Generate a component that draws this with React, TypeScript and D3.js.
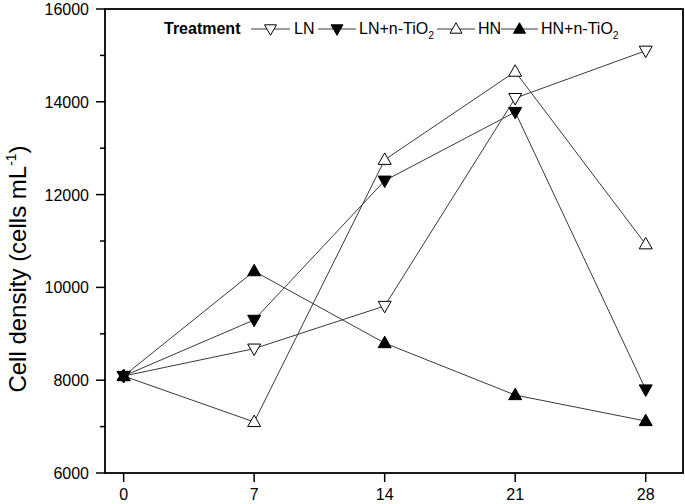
import React from "react";
import * as d3 from "d3";

const days = [0, 7, 14, 21, 28];
const LN = [8090, 8680, 9600, 14080, 15100];
const LN_TiO2 = [8090, 9300, 12300, 13780, 7800];
const HN = [8090, 7100, 12750, 14650, 10930];
const HN_TiO2 = [8090, 10350, 8800, 7680, 7120];
const yTicks = [6000, 8000, 10000, 12000, 14000, 16000];
const yMinorTicks = [7000, 9000, 11000, 13000, 15000];
const xTicks = [0, 7, 14, 21, 28];

const allSeries = [
  { name: "LN", values: LN, dir: "down", filled: false },
  { name: "LN+n-TiO2", values: LN_TiO2, dir: "down", filled: true },
  { name: "HN", values: HN, dir: "up", filled: false },
  { name: "HN+n-TiO2", values: HN_TiO2, dir: "up", filled: true },
];

const W = 685;
const H = 504;
const left = 105, right = 683, top = 9, bottom = 473;

function triPath(dir: string, w: number, h: number) {
  const hw = w / 2;
  const a = h * 0.6, b = h * 0.4;
  if (dir === "up") return `M0,${-a}L${hw},${b}L${-hw},${b}Z`;
  return `M0,${a}L${hw},${-b}L${-hw},${-b}Z`;
}

function Label({ text, x, y, size, weight, anchor }: any) {
  const m = text.match(/^(.*TiO)(2)$/);
  if (m) {
    return (
      <text x={x} y={y} fontSize={size} fontWeight={weight} textAnchor={anchor}>
        {m[1]}
        <tspan fontSize={size * 0.65} dy={size * 0.3}>2</tspan>
      </text>
    );
  }
  return (
    <text x={x} y={y} fontSize={size} fontWeight={weight} textAnchor={anchor}>
      {text}
    </text>
  );
}

export default function App() {
  const x = d3.scaleLinear().domain([-1, 30]).range([left, right]);
  const y = d3.scaleLinear().domain([6000, 16000]).range([bottom, top]);
  const line = d3
    .line<number>()
    .x((_, i) => x(days[i]))
    .y((v) => y(v));

  const lineColor = "#3a3a3a";
  const font = "'Liberation Sans', Arial, sans-serif";

  const legY = 29;
  const legendItems = [
    { s: allSeries[0], lx0: 251, lx1: 290, tx: 294 },
    { s: allSeries[1], lx0: 318, lx1: 356, tx: 359 },
    { s: allSeries[2], lx0: 437, lx1: 475, tx: 478 },
    { s: allSeries[3], lx0: 501, lx1: 538, tx: 541 },
  ];

  return (
    <svg
      width={W}
      height={H}
      style={{ position: "absolute", left: 0, top: 0, background: "#fff" }}
      fontFamily={font}
    >
      <rect x={0} y={0} width={W} height={H} fill="#fff" />
      {allSeries.map((s) => (
        <path key={s.name + "l"} d={line(s.values) || ""} fill="none" stroke={lineColor} strokeWidth={1} />
      ))}
      {allSeries.map((s) =>
        s.values.map((v, i) => (
          <path
            key={s.name + i}
            d={triPath(s.dir, 13, 11.5)}
            transform={`translate(${x(days[i])},${y(v)})`}
            fill={s.filled ? "#000" : "#fff"}
            stroke="#000"
            strokeWidth={1}
          />
        ))
      )}
      <rect x={left} y={top} width={right - left} height={bottom - top} fill="none" stroke="#000" strokeWidth={1.8} />
      {yTicks.map((t) => (
        <g key={"y" + t}>
          <line x1={left - 9} x2={left} y1={y(t)} y2={y(t)} stroke="#000" strokeWidth={1.5} />
          <text x={left - 16} y={y(t) + 6} fontSize={16} textAnchor="end">
            {t}
          </text>
        </g>
      ))}
      {yMinorTicks.map((t) => (
        <line key={"ym" + t} x1={left - 5} x2={left} y1={y(t)} y2={y(t)} stroke="#000" strokeWidth={1.5} />
      ))}
      {xTicks.map((t) => (
        <g key={"x" + t}>
          <line x1={x(t)} x2={x(t)} y1={bottom} y2={bottom + 9} stroke="#000" strokeWidth={1.5} />
          <text x={x(t)} y={bottom + 27} fontSize={16} textAnchor="middle">
            {t}
          </text>
        </g>
      ))}
      <text
        transform={`translate(26,${(top + bottom) / 2 + 28}) rotate(-90)`}
        fontSize={24}
        textAnchor="middle"
      >
        Cell density (cells mL
        <tspan fontSize={14} dy={-10}>-1</tspan>
        <tspan dy={10}>)</tspan>
      </text>
      <text x={164} y={legY + 5} fontSize={16} fontWeight="bold">
        Treatment
      </text>
      {legendItems.map((it) => (
        <g key={"leg" + it.s.name}>
          <line x1={it.lx0} x2={it.lx1} y1={legY} y2={legY} stroke={lineColor} strokeWidth={1} />
          <path
            d={triPath(it.s.dir, 12, 10.5)}
            transform={`translate(${(it.lx0 + it.lx1) / 2},${legY})`}
            fill={it.s.filled ? "#000" : "#fff"}
            stroke="#000"
            strokeWidth={1}
          />
          <Label text={it.s.name} x={it.tx} y={legY + 5} size={16} weight="normal" anchor="start" />
        </g>
      ))}
    </svg>
  );
}
